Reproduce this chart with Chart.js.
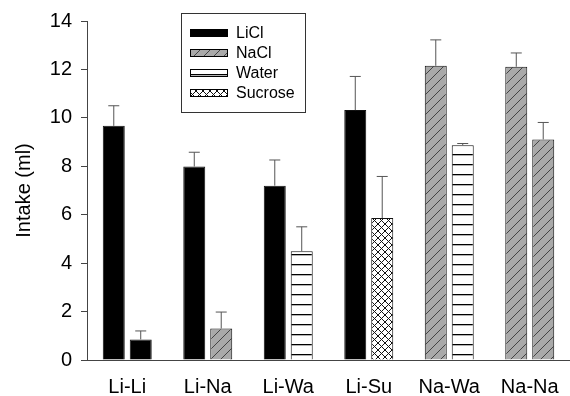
<!DOCTYPE html>
<html>
<head>
<meta charset="utf-8">
<script src="https://cdn.jsdelivr.net/npm/chart.js@4"></script>
<style>
  body { margin: 0; background: #fff; }
  #wrap { width: 570px; height: 396px; position: relative; }
</style>
</head>
<body>
<div id="wrap"><canvas id="intakeChart"></canvas></div>
<script>
// Data
const groups = ['Li-Li', 'Li-Na', 'Li-Wa', 'Li-Su', 'Na-Wa', 'Na-Na'];
const firstVals = [9.67, 7.99, 7.2, 10.32, 12.15, 12.11];
const firstErr = [0.83, 0.59, 1.06, 1.39, 1.07, 0.57];
const firstKind = ['LiCl', 'LiCl', 'LiCl', 'LiCl', 'NaCl', 'NaCl'];
const secondVals = [0.85, 1.3, 4.49, 5.86, 8.87, 9.11];
const secondErr = [0.35, 0.68, 1.01, 1.72, 0.07, 0.7];
const secondKind = ['LiCl', 'NaCl', 'Water', 'Sucrose', 'Water', 'NaCl'];
const legendNames = ['LiCl', 'NaCl', 'Water', 'Sucrose'];
const yTicks = [0, 2, 4, 6, 8, 10, 12, 14];

const FONT = "'Liberation Sans', Arial, sans-serif";

// Fill patterns for each solution
function makePattern(size, draw) {
  const c = document.createElement('canvas');
  c.width = size; c.height = size;
  const g = c.getContext('2d');
  draw(g, size);
  return g.createPattern(c, 'repeat');
}

const fills = {
  LiCl: '#000000',
  NaCl: makePattern(10, (g, s) => {
    g.fillStyle = '#a9a9a9';
    g.fillRect(0, 0, s, s);
    g.strokeStyle = '#444';
    g.lineWidth = 1;
    g.beginPath();
    g.moveTo(0, s); g.lineTo(s, 0);
    g.moveTo(-1, 1); g.lineTo(1, -1);
    g.moveTo(s - 1, s + 1); g.lineTo(s + 1, s - 1);
    g.stroke();
  }),
  Water: makePattern(10, (g, s) => {
    g.fillStyle = '#fff';
    g.fillRect(0, 0, s, s);
    g.fillStyle = '#000';
    g.fillRect(0, 4, s, 1.3);
  }),
  Sucrose: makePattern(7, (g, s) => {
    g.fillStyle = '#fff';
    g.fillRect(0, 0, s, s);
    g.strokeStyle = '#111';
    g.lineWidth = 1;
    g.beginPath();
    g.moveTo(0, 0); g.lineTo(s, s);
    g.moveTo(0, s); g.lineTo(s, 0);
    g.stroke();
  })
};

// Error bars (upper only)
const errorBars = {
  id: 'errorBars',
  afterDatasetsDraw(chart) {
    const ctx = chart.ctx;
    const y = chart.scales.y;
    [firstErr, secondErr].forEach((errs, d) => {
      const meta = chart.getDatasetMeta(d);
      const vals = chart.data.datasets[d].data;
      meta.data.forEach((bar, i) => {
        const top = y.getPixelForValue(vals[i] + errs[i]);
        ctx.save();
        ctx.strokeStyle = '#555';
        ctx.lineWidth = 1;
        ctx.beginPath();
        ctx.moveTo(bar.x, bar.y);
        ctx.lineTo(bar.x, top);
        ctx.moveTo(bar.x - 5.5, top);
        ctx.lineTo(bar.x + 5.5, top);
        ctx.stroke();
        ctx.restore();
      });
    });
  }
};

// Boxed legend inside the plot
const boxLegend = {
  id: 'boxLegend',
  afterDraw(chart) {
    const ctx = chart.ctx;
    ctx.save();
    ctx.strokeStyle = '#333';
    ctx.lineWidth = 1;
    ctx.strokeRect(181.5, 13.5, 124, 99);
    ctx.font = '16px ' + FONT;
    ctx.textBaseline = 'middle';
    legendNames.forEach((name, i) => {
      const cy = 33 + i * 20;
      ctx.fillStyle = fills[name];
      ctx.fillRect(190, cy - 4, 38, 8);
      ctx.strokeStyle = '#000';
      ctx.strokeRect(190.5, cy - 3.5, 37, 7);
      ctx.fillStyle = '#000';
      ctx.fillText(name, 236, cy + 1);
    });
    ctx.restore();
  }
};

const intakeChart = new Chart(document.getElementById('intakeChart'), {
  type: 'bar',
  data: {
    labels: groups,
    datasets: [
      {
        label: 'first',
        data: firstVals,
        backgroundColor: firstKind.map(k => fills[k]),
        borderColor: '#111',
        borderWidth: 1,
        categoryPercentage: 0.67,
        barPercentage: 0.815
      },
      {
        label: 'second',
        data: secondVals,
        backgroundColor: secondKind.map(k => fills[k]),
        borderColor: '#111',
        borderWidth: 1,
        categoryPercentage: 0.67,
        barPercentage: 0.815
      }
    ]
  },
  options: {
    responsive: true,
    maintainAspectRatio: false,
    animation: false,
    layout: { padding: { top: 19, right: 0, left: 0, bottom: 0 } },
    plugins: {
      legend: { display: false },
      tooltip: { enabled: false }
    },
    scales: {
      x: {
        grid: { display: false },
        border: { display: true, color: '#444', width: 1 },
        ticks: { color: '#000', font: { family: FONT, size: 20 }, padding: 7 },
        afterFit: s => { s.height = 36; }
      },
      y: {
        min: 0,
        max: 14,
        afterBuildTicks: s => { s.ticks = yTicks.map(v => ({ value: v })); },
        grid: { drawOnChartArea: false, drawTicks: true, tickLength: 6, color: '#444' },
        border: { display: true, color: '#444', width: 1 },
        ticks: { color: '#000', font: { family: FONT, size: 20 }, padding: 9 },
        title: {
          display: true,
          text: 'Intake (ml)',
          color: '#000',
          font: { family: FONT, size: 20 },
          padding: { top: 12, bottom: 0 }
        },
        afterFit: s => { s.width = 87; }
      }
    }
  },
  plugins: [errorBars, boxLegend]
});
</script>
</body>
</html>
